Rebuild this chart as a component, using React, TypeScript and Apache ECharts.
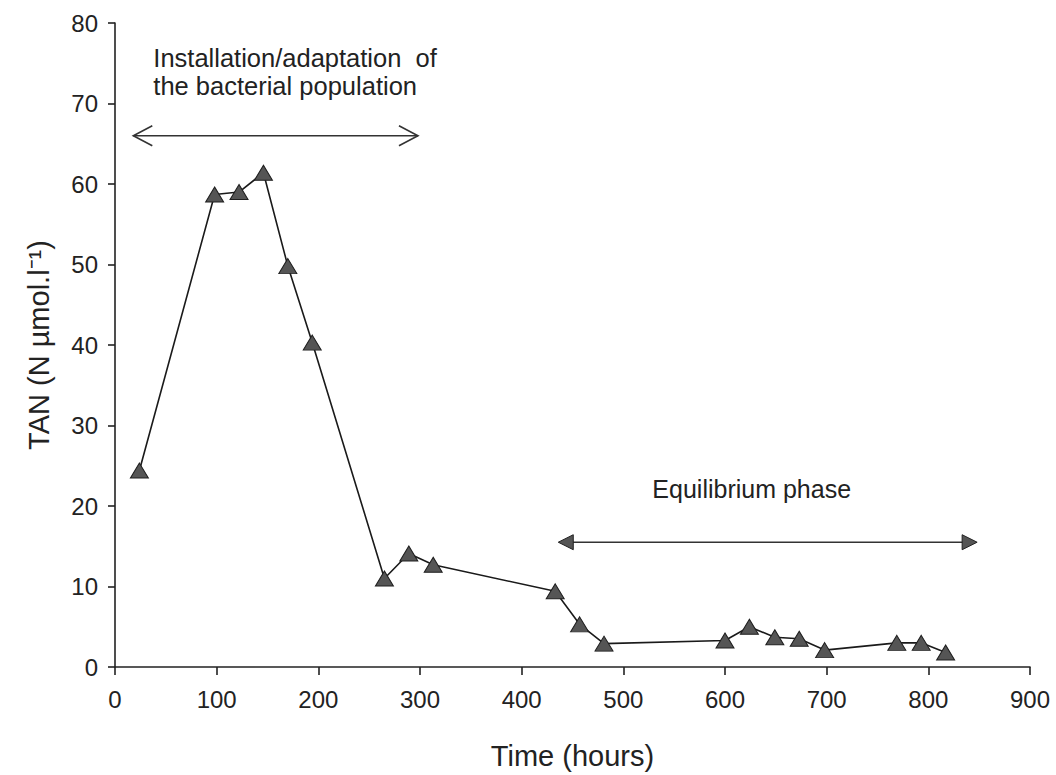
import React, { useEffect, useRef } from "react";
import * as echarts from "echarts";

// Time (hours) of each sample
const hours = [24, 98, 122, 146, 170, 194, 265, 289, 313, 433, 457, 481, 600, 624, 649, 673, 698, 769, 793, 817];
// TAN concentration (N µmol.l-1)
const tan = [24.4, 58.7, 59.0, 61.4, 49.8, 40.3, 11.0, 14.1, 12.7, 9.4, 5.3, 2.9, 3.3, 5.0, 3.7, 3.5, 2.1, 3.0, 3.0, 1.8];

// Axis ranges
const xRange = [0, 900, 100];
const yRange = [0, 80, 10];

// Phase annotations: [startHour, endHour, level]
const installSpan = [18, 298, 66];
const equilSpan = [436, 848, 15.5];
const installLabel = "Installation/adaptation  of\nthe bacterial population";
const equilLabel = "Equilibrium phase";

const FONT = "'Liberation Sans', Arial, Helvetica, sans-serif";

export default function App() {
  const ref = useRef<HTMLDivElement>(null);

  useEffect(() => {
    if (!ref.current) return;
    const chart = echarts.init(ref.current, undefined, { renderer: "svg" });
    const data = hours.map((h, i) => [h, tan[i]]);
    chart.setOption({
      animation: false,
      backgroundColor: "#ffffff",
      textStyle: { fontFamily: FONT },
      grid: { left: 115, right: 26, top: 23, bottom: 106.5, containLabel: false },
      xAxis: {
        type: "value",
        min: xRange[0],
        max: xRange[1],
        interval: xRange[2],
        name: "Time (hours)",
        nameLocation: "middle",
        nameGap: 74,
        nameTextStyle: { fontSize: 29, color: "#222", fontFamily: FONT },
        axisLine: { show: true, onZero: false, lineStyle: { color: "#222", width: 1.6 } },
        axisTick: { show: true, inside: false, length: 8, lineStyle: { color: "#222", width: 1.6 } },
        axisLabel: { fontSize: 24, color: "#222", margin: 20, fontFamily: FONT },
        splitLine: { show: false },
      },
      yAxis: {
        type: "value",
        min: yRange[0],
        max: yRange[1],
        interval: yRange[2],
        name: "TAN (N µmol.l⁻¹)",
        nameLocation: "middle",
        nameGap: 62,
        nameTextStyle: { fontSize: 29, color: "#222", fontFamily: FONT },
        axisLine: { show: true, lineStyle: { color: "#222", width: 1.6 } },
        axisTick: { show: true, inside: false, length: 7, lineStyle: { color: "#222", width: 1.6 } },
        axisLabel: { fontSize: 24, color: "#222", margin: 17, fontFamily: FONT },
        splitLine: { show: false },
      },
      series: [
        {
          type: "line",
          data,
          symbol: "triangle",
          symbolSize: [18, 15],
          showAllSymbol: true,
          lineStyle: { color: "#1a1a1a", width: 1.6 },
          itemStyle: { color: "#555555", borderColor: "#1f1f1f", borderWidth: 1 },
          z: 3,
        },
      ],
    });

    const px = (x: number, y: number) => chart.convertToPixel({ gridIndex: 0 }, [x, y]) as number[];
    const a = px(installSpan[0], installSpan[2]);
    const b = px(installSpan[1], installSpan[2]);
    const c = px(equilSpan[0], equilSpan[2]);
    const d = px(equilSpan[1], equilSpan[2]);
    const lineStyle = { stroke: "#333", lineWidth: 1.6, fill: null };
    chart.setOption({
      graphic: [
        { type: "line", shape: { x1: a[0], y1: a[1], x2: b[0], y2: b[1] }, style: lineStyle },
        {
          type: "polyline",
          shape: { points: [[a[0] + 19, a[1] - 10], [a[0], a[1]], [a[0] + 19, a[1] + 10]] },
          style: lineStyle,
        },
        {
          type: "polyline",
          shape: { points: [[b[0] - 19, b[1] - 10], [b[0], b[1]], [b[0] - 19, b[1] + 10]] },
          style: lineStyle,
        },
        {
          type: "text",
          x: a[0] + 20,
          y: a[1] - 92,
          style: {
            text: installLabel,
            fontSize: 25.5,
            lineHeight: 28,
            fontFamily: FONT,
            fill: "#222",
            textAlign: "left",
            textVerticalAlign: "top",
          },
        },
        { type: "line", shape: { x1: c[0] + 10, y1: c[1], x2: d[0] - 10, y2: d[1] }, style: lineStyle },
        {
          type: "polygon",
          shape: { points: [[c[0], c[1]], [c[0] + 15, c[1] - 7.5], [c[0] + 15, c[1] + 7.5]] },
          style: { fill: "#555", stroke: "#222", lineWidth: 1 },
        },
        {
          type: "polygon",
          shape: { points: [[d[0], d[1]], [d[0] - 15, d[1] - 7.5], [d[0] - 15, d[1] + 7.5]] },
          style: { fill: "#555", stroke: "#222", lineWidth: 1 },
        },
        {
          type: "text",
          x: (c[0] + d[0]) / 2 - 16,
          y: c[1] - 53,
          style: {
            text: equilLabel,
            fontSize: 25,
            fontFamily: FONT,
            fill: "#222",
            textAlign: "center",
            textVerticalAlign: "middle",
          },
        },
      ],
    });

    return () => chart.dispose();
  }, []);

  return (
    <div
      ref={ref}
      style={{ position: "fixed", left: 0, top: 0, width: 1056, height: 775, background: "#fff" }}
    />
  );
}
